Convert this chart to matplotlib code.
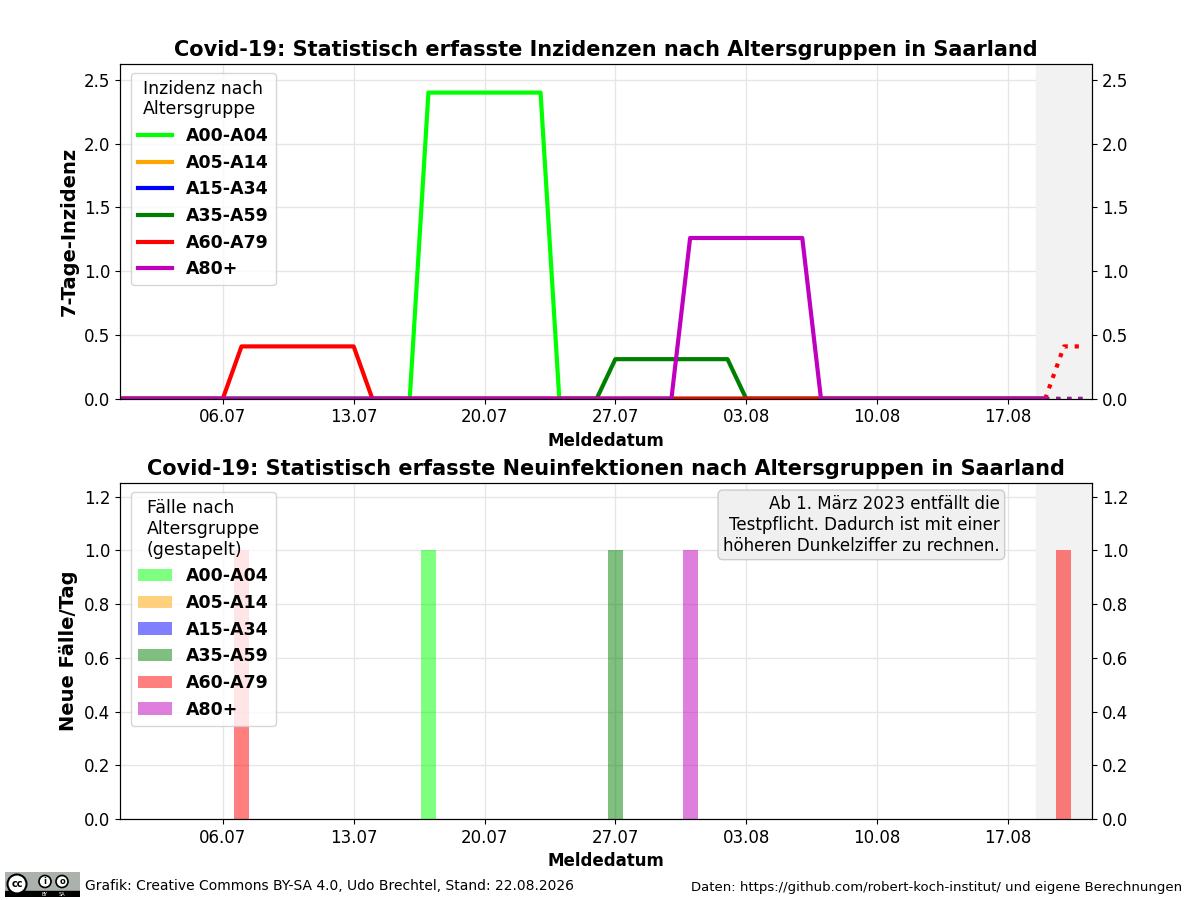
import matplotlib
matplotlib.use("Agg")
import matplotlib.pyplot as plt
import matplotlib.dates as mdates
from matplotlib.patches import Circle, Rectangle
import pandas as pd
import numpy as np

# Daten (Saarland, Tageswerte 30.06. - 21.08.)
tage = pd.date_range("2026-06-30", "2026-08-21", freq="D")
gruppen = ["A00-A04", "A05-A14", "A15-A34", "A35-A59", "A60-A79", "A80+"]
farben = ["#00ff00", "orange", "blue", "green", "red", "m"]

# 7-Tage-Inzidenz je Altersgruppe
inz_a00 = [0] * 17 + [2.4] * 7 + [0] * 29
inz_a05 = [0] * 53
inz_a15 = [0] * 53
inz_a35 = [0] * 27 + [0.31] * 7 + [0] * 19
inz_a60 = [0] * 7 + [0.41] * 7 + [0] * 37 + [0.41] * 2
inz_a80 = [0] * 31 + [1.26] * 7 + [0] * 15
inzidenzen = [inz_a00, inz_a05, inz_a15, inz_a35, inz_a60, inz_a80]

# neue Fälle pro Tag je Altersgruppe
fall_a00 = [0] * 17 + [1] + [0] * 35
fall_a05 = [0] * 53
fall_a15 = [0] * 53
fall_a35 = [0] * 27 + [1] + [0] * 25
fall_a60 = [0] * 7 + [1] + [0] * 43 + [1] + [0]
fall_a80 = [0] * 31 + [1] + [0] * 21
faelle = [fall_a00, fall_a05, fall_a15, fall_a35, fall_a60, fall_a80]

stand = "22.08.2026"
unsicher = 3  # letzte Tage noch unvollständig

fig = plt.figure(figsize=(12, 9), dpi=100)
ax1 = fig.add_axes([0.1, 0.557, 0.81, 0.372])
ax2 = fig.add_axes([0.1, 0.09, 0.81, 0.373])

x0 = tage[1] - pd.Timedelta(hours=12)
x1 = tage[-1] + pd.Timedelta(hours=12)
grau_start = tage[-unsicher] - pd.Timedelta(hours=12)

# oberes Diagramm: Inzidenzen
n_solid = len(tage) - unsicher + 1
for name, farbe, werte in zip(gruppen, farben, inzidenzen):
    ax1.plot(tage[:n_solid], werte[:n_solid], color=farbe, lw=3, label=name, zorder=2)
    ax1.plot(tage[n_solid - 1:], werte[n_solid - 1:], color=farbe, lw=3, ls=":", zorder=2)
ax1.axvspan(grau_start, x1, color="#f2f2f2", zorder=1)
ax1.set_xlim(x0, x1)
ax1.set_ylim(0, 2.625)
ax1.set_title("Covid-19: Statistisch erfasste Inzidenzen nach Altersgruppen in Saarland",
              fontsize=15, fontweight="bold")
ax1.set_ylabel("7-Tage-Inzidenz", fontsize=14, fontweight="bold")
ax1.set_xlabel("Meldedatum", fontsize=12, fontweight="bold")
leg1 = ax1.legend(title="Inzidenz nach\nAltersgruppe", loc="upper left", bbox_to_anchor=(0.002, 1.0),
                  prop={"weight": "bold", "size": 12.5}, title_fontsize=12.5)
leg1.get_title().set_multialignment("left")

# unteres Diagramm: Neuinfektionen gestapelt
unten = np.zeros(len(tage))
for name, farbe, werte in zip(gruppen, farben, faelle):
    ax2.bar(tage, werte, width=0.8, bottom=unten, color=farbe, alpha=0.5, label=name, zorder=2)
    unten = unten + np.array(werte)
ax2.axvspan(grau_start, x1, color="#f2f2f2", zorder=1)
ax2.set_xlim(x0, x1)
ax2.set_ylim(0, 1.25)
ax2.set_title("Covid-19: Statistisch erfasste Neuinfektionen nach Altersgruppen in Saarland",
              fontsize=15, fontweight="bold")
ax2.set_ylabel("Neue Fälle/Tag", fontsize=14, fontweight="bold")
ax2.set_xlabel("Meldedatum", fontsize=12, fontweight="bold")
leg2 = ax2.legend(title="Fälle nach\nAltersgruppe\n(gestapelt)", loc="upper left", bbox_to_anchor=(0.002, 1.0),
                  prop={"weight": "bold", "size": 12.5}, title_fontsize=12.5)
leg2.get_title().set_multialignment("left")
ax2.text(0.905, 0.965, "Ab 1. März 2023 entfällt die\nTestpflicht. Dadurch ist mit einer\nhöheren Dunkelziffer zu rechnen.",
         transform=ax2.transAxes, ha="right", va="top", fontsize=12, multialignment="right",
         bbox=dict(boxstyle="round,pad=0.3", facecolor="#f0f0f0", edgecolor="#cccccc"), zorder=5)

for ax in (ax1, ax2):
    ax.xaxis.set_major_locator(mdates.WeekdayLocator(byweekday=mdates.MO))
    ax.xaxis.set_major_formatter(mdates.DateFormatter("%d.%m"))
    ax.tick_params(labelsize=12)
    ax.grid(True, color="#e6e6e6", lw=1)
    ax.set_axisbelow(True)
    rechts = ax.twinx()
    rechts.set_ylim(ax.get_ylim())
    rechts.set_yticks(ax.get_yticks())
    rechts.set_ylim(ax.get_ylim())
    rechts.tick_params(labelsize=12)

# Fußzeile mit CC-Logo
logo = fig.add_axes([5 / 1200, 3 / 900, 75 / 1200, 25 / 900])
logo.set_xlim(0, 75)
logo.set_ylim(0, 25)
logo.axis("off")
logo.add_patch(Rectangle((0, 0), 75, 25, color="#aab2ab"))
logo.add_patch(Rectangle((0, 0), 75, 6, color="black"))
logo.add_patch(Circle((12, 13), 9.5, facecolor="white", edgecolor="black", lw=1.5))
logo.text(12, 13, "cc", ha="center", va="center", fontsize=7, fontweight="bold")
for cx in (40, 57):
    logo.add_patch(Circle((cx, 15.5), 6, facecolor="white", edgecolor="black", lw=1.2))
logo.text(40, 15.5, "i", ha="center", va="center", fontsize=6, fontweight="bold")
logo.text(57, 15.5, "o", ha="center", va="center", fontsize=6, fontweight="bold")
logo.text(40, 3, "BY", ha="center", va="center", fontsize=3.5, color="white")
logo.text(57, 3, "SA", ha="center", va="center", fontsize=3.5, color="white")

fig.text(85 / 1200, 1 - 886 / 900, "Grafik: Creative Commons BY-SA 4.0, Udo Brechtel, Stand: " + stand,
         fontsize=10, va="center")
fig.text(1182 / 1200, 1 - 887 / 900, "Daten: https://github.com/robert-koch-institut/ und eigene Berechnungen",
         fontsize=9.5, va="center", ha="right")

fig.savefig("out.png", dpi=100)
